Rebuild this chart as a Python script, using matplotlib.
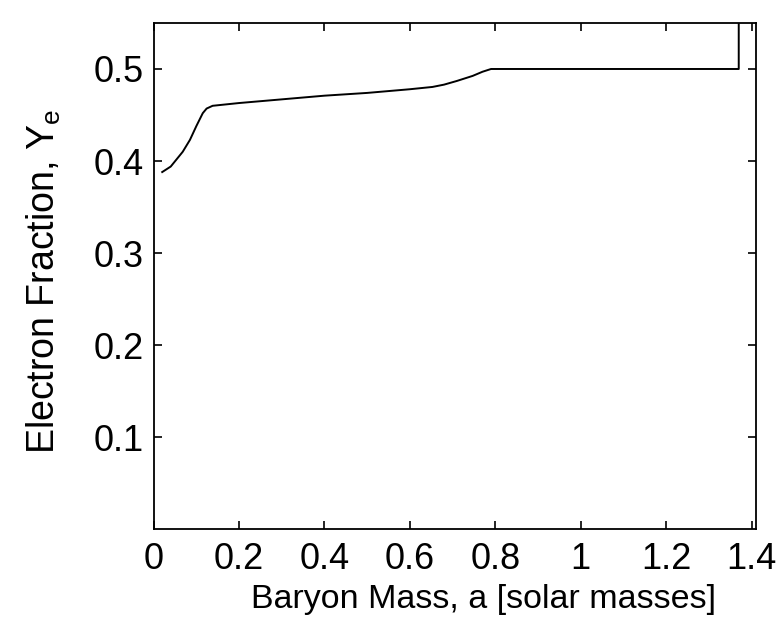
import matplotlib.pyplot as plt

plt.rcParams['font.family'] = ['Liberation Sans', 'DejaVu Sans']
plt.rcParams['mathtext.fontset'] = 'custom'
plt.rcParams['mathtext.rm'] = 'Liberation Sans'

# electron fraction profile vs enclosed baryon mass
mass = [0.02, 0.04, 0.068, 0.085, 0.10, 0.115, 0.124, 0.138, 0.2, 0.3, 0.4,
        0.5, 0.6, 0.653, 0.68, 0.71, 0.747, 0.77, 0.79, 1.0, 1.2, 1.37, 1.37]
ye = [0.388, 0.394, 0.41, 0.423, 0.438, 0.452, 0.457, 0.46, 0.463, 0.467, 0.471,
      0.474, 0.478, 0.4805, 0.483, 0.487, 0.4925, 0.497, 0.5, 0.5, 0.5, 0.5, 0.56]

xticks = [0, 0.2, 0.4, 0.6, 0.8, 1, 1.2, 1.4]
xtick_labels = ['0', '0.2', '0.4', '0.6', '0.8', '1', '1.2', '1.4']
yticks = [0.1, 0.2, 0.3, 0.4, 0.5]

fig = plt.figure(figsize=(7.8, 6.21), dpi=100)
ax = fig.add_axes([0.197, 0.148, 0.772, 0.815])
ax.plot(mass, ye, color='black', linewidth=1.4)

ax.set_xlim(0, 1.41)
ax.set_ylim(0, 0.55)
ax.set_xticks(xticks)
ax.set_xticklabels(xtick_labels)
ax.set_yticks(yticks)
ax.tick_params(direction='in', top=True, right=True, length=6, width=1.2,
               labelsize=26)
ax.tick_params(axis='x', pad=9)
ax.tick_params(axis='y', pad=7)
for s in ax.spines.values():
    s.set_linewidth(1.3)

ax.set_xlabel('Baryon Mass, a [solar masses]', fontsize=24.5, labelpad=5)
ax.set_ylabel(r'Electron Fraction, Y$_\mathregular{e}$', fontsize=27, labelpad=22)
# labels sit slightly off the axes centre
ax.xaxis.label.set_x(0.547)
ax.yaxis.label.set_y(0.49)

plt.savefig('out.png', dpi=100)
